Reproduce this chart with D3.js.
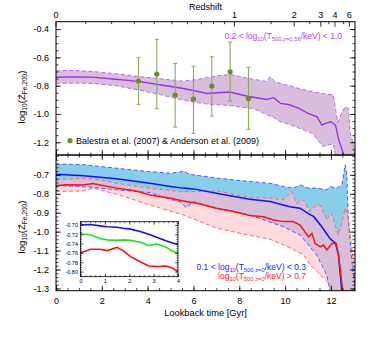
<!DOCTYPE html>
<html>
<head>
<meta charset="utf-8">
<script src="https://d3js.org/d3.v7.min.js"></script>
<style>
body { margin:0; background:#fff; }
text { font-family: "Liberation Sans", Arial, sans-serif; }
</style>
</head>
<body>
<script>
// ---- data (lookback time in Gyr, log10 Z) ----
var tTopMed = [0, 0.8, 1.6, 2.6, 3.6, 4.6, 5.5, 6.1, 6.6, 7.1, 7.6, 8.3, 9.2, 9.5, 9.8, 10.2, 10.6, 11.0, 11.4, 11.6, 11.8, 12.0, 12.2, 12.35, 12.5, 12.65];
var topMed  = [-0.741,-0.738,-0.740,-0.755,-0.770,-0.795,-0.818,-0.838,-0.855,-0.850,-0.845,-0.873,-0.898,-0.885,-0.925,-0.935,-0.960,-0.996,-1.020,-1.078,-1.065,-1.055,-1.080,-1.190,-1.260,-1.35];

var tTopBand = [0, 0.8, 1.6, 2.6, 3.6, 4.6, 5.5, 6.1, 6.6, 7.1, 7.6, 8.0, 8.6, 9.2, 9.35, 9.55, 9.8, 10.2, 10.6, 11.2, 11.4, 11.65, 12.1, 12.3, 12.45, 12.62, 12.76, 12.84, 12.97, 13.1];
var topUp  = [-0.695,-0.692,-0.700,-0.715,-0.735,-0.752,-0.768,-0.758,-0.742,-0.728,-0.722,-0.735,-0.755,-0.770,-0.737,-0.770,-0.784,-0.800,-0.820,-0.843,-0.848,-0.855,-0.866,-1.060,-1.000,-0.949,-0.960,-1.135,-1.206,-1.30];
var topLow = [-0.784,-0.782,-0.784,-0.800,-0.830,-0.865,-0.900,-0.918,-0.930,-0.935,-0.940,-0.950,-0.962,-1.005,-1.015,-1.030,-1.055,-1.075,-1.100,-1.137,-1.180,-1.230,-1.210,-1.40,-1.40,-1.40,-1.40,-1.40,-1.40,-1.40];

var obsT  = [3.6, 4.4, 5.2, 6.0, 6.8, 7.6, 8.4];
var obsZ  = [-0.767, -0.718, -0.866, -0.895, -0.803, -0.702, -0.890];
var obsHi = [-0.600, -0.473, -0.643, -0.662, -0.596, -0.492, -0.671];
var obsLo = [-0.932, -0.963, -1.093, -1.137, -1.015, -0.909, -1.109];

var tBlueMed = [0, 1.2, 2.65, 4.1, 5.0, 5.55, 6.0, 7.0, 8.45, 9.35, 10.2, 10.65, 11.0, 11.25, 11.6, 11.95, 12.2, 12.33, 12.5];
var blueMed  = [-0.697,-0.704,-0.721,-0.744,-0.762,-0.770,-0.774,-0.797,-0.829,-0.841,-0.868,-0.876,-0.903,-0.921,-0.974,-1.035,-1.062,-1.124,-1.35];

var tRedMed = [0, 0.4, 1.2, 1.6, 2.65, 3.5, 4.1, 5.0, 5.55, 6.15, 7.0, 7.75, 8.45, 9.05, 9.5, 9.95, 10.35, 10.65, 11.02, 11.17, 11.31, 11.53, 11.67, 11.82, 12.04, 12.23, 12.33, 12.55];
var redMed  = [-0.758,-0.752,-0.753,-0.746,-0.770,-0.785,-0.806,-0.823,-0.838,-0.850,-0.876,-0.894,-0.915,-0.921,-0.938,-0.947,-0.947,-0.965,-1.027,-1.009,-1.062,-1.080,-1.071,-1.097,-1.062,-1.062,-1.124,-1.35];

var tBlueBand = [0, 1.2, 2.65, 4.1, 5.0, 5.4, 5.56, 5.71, 6.0, 7.0, 8.45, 9.35, 9.93, 10.36, 10.66, 11.02, 11.38, 11.82, 11.97, 12.26, 12.48, 12.62, 12.69, 12.76, 12.84, 12.95, 13.1];
var blueUp  = [-0.643,-0.646,-0.665,-0.683,-0.691,-0.685,-0.679,-0.690,-0.700,-0.717,-0.735,-0.744,-0.762,-0.770,-0.753,-0.770,-0.770,-0.779,-0.762,-0.770,-0.753,-0.647,-0.700,-0.947,-1.053,-1.200,-1.35];
var blueLow = [-0.757,-0.762,-0.779,-0.794,-0.830,-0.841,-0.860,-0.873,-0.841,-0.876,-0.912,-0.950,-0.974,-1.000,-1.018,-1.070,-1.124,-1.229,-1.320,-1.40,-1.40,-1.40,-1.40,-1.40,-1.40,-1.40,-1.40];

var tRedBand = [0, 1.2, 1.63, 1.92, 2.65, 4.1, 5.56, 7.02, 8.47, 9.34, 9.93, 10.29, 10.5, 10.8, 11.09, 11.31, 11.53, 11.82, 12.0, 12.1, 12.31, 12.45, 12.62, 12.76, 12.84, 12.97, 13.1];
var redUp  = [-0.726,-0.718,-0.722,-0.726,-0.745,-0.770,-0.790,-0.785,-0.820,-0.823,-0.832,-0.788,-0.850,-0.832,-0.894,-0.864,-0.859,-0.938,-0.900,-0.930,-1.018,-0.965,-0.876,-0.929,-1.018,-1.150,-1.35];
var redLow = [-0.788,-0.785,-0.770,-0.780,-0.802,-0.859,-0.912,-0.982,-1.020,-1.040,-1.070,-1.090,-1.105,-1.120,-1.176,-1.200,-1.229,-1.260,-1.300,-1.350,-1.40,-1.40,-1.40,-1.40,-1.40,-1.40,-1.40];

// inset: first 4 Gyr of the medians
var tInset     = [0, 0.4, 0.8, 1.1, 1.5, 1.75, 2.05, 2.45, 2.8, 3.15, 3.5, 3.75, 4.0];
var insetBlue  = [-0.700,-0.699,-0.702,-0.704,-0.705,-0.707,-0.709,-0.714,-0.720,-0.727,-0.734,-0.738,-0.742];
var insetGreen = [-0.719,-0.721,-0.729,-0.732,-0.733,-0.732,-0.733,-0.737,-0.744,-0.741,-0.747,-0.756,-0.760];
var insetRed   = [-0.760,-0.752,-0.752,-0.755,-0.748,-0.755,-0.768,-0.779,-0.788,-0.789,-0.788,-0.792,-0.800];

var zMajor = [0, 1, 2, 3, 4, 6];
var zMinor = [0.1,0.2,0.3,0.4,0.5,0.6,0.7,0.8,0.9,1.5,2.5,3.5,5];

// ---- layout ----
var W = 374, H = 337;
var L = 56, R = 355, T1 = 21.7, M = 155, B = 290.7;

var svg = d3.select("body").append("svg").attr("width", W).attr("height", H);

var x = d3.scaleLinear().domain([0, 13.05]).range([L, R]);
var yTop = d3.scaleLinear().domain([-1.29, -0.348]).range([M, T1]);
var yBot = d3.scaleLinear().domain([-1.312, -0.595]).range([B, M]);

// lookback time for a flat LCDM (H0=70.4, Om=0.272)
function lookback(z) {
  var th = 977.8 / 70.4, om = 0.272, ol = 0.728;
  var k = 2 * th / (3 * Math.sqrt(ol)), s = Math.sqrt(ol / om);
  return k * Math.asinh(s) - k * Math.asinh(s * Math.pow(1 + z, -1.5));
}

function zip(t, v) { return t.map(function(d, i) { return [d, v[i]]; }); }
function zip3(t, a, b) { return t.map(function(d, i) { return [d, a[i], b[i]]; }); }

var defs = svg.append("defs");
defs.append("clipPath").attr("id", "clipTop").append("rect")
  .attr("x", L).attr("y", T1).attr("width", R - L).attr("height", M - T1);
defs.append("clipPath").attr("id", "clipBot").append("rect")
  .attr("x", L).attr("y", M).attr("width", R - L).attr("height", B - M);

// ================= top panel =================
var gTop = svg.append("g").attr("clip-path", "url(#clipTop)");
var lineT = d3.line().x(function(d) { return x(d[0]); }).y(function(d) { return yTop(d[1]); });
var areaT = d3.area().x(function(d) { return x(d[0]); })
  .y0(function(d) { return yTop(d[2]); }).y1(function(d) { return yTop(d[1]); });

var topBand = zip3(tTopBand, topUp, topLow);
gTop.append("path").datum(topBand).attr("d", areaT).attr("fill", "#d9bedb");
gTop.append("path").datum(zip(tTopBand, topUp)).attr("d", lineT)
  .attr("fill", "none").attr("stroke", "#b15cf2").attr("stroke-width", 0.9).attr("stroke-dasharray", "4,2.5");
gTop.append("path").datum(zip(tTopBand, topLow)).attr("d", lineT)
  .attr("fill", "none").attr("stroke", "#b15cf2").attr("stroke-width", 0.9).attr("stroke-dasharray", "4,2.5");
gTop.append("path").datum(zip(tTopMed, topMed)).attr("d", lineT)
  .attr("fill", "none").attr("stroke", "#9b2ff0").attr("stroke-width", 1.4);

// observations with error bars
var obs = obsT.map(function(d, i) { return {t: d, z: obsZ[i], hi: obsHi[i], lo: obsLo[i]}; });
var eb = gTop.append("g").selectAll("g").data(obs).enter().append("g");
eb.append("line").attr("x1", function(d) { return x(d.t); }).attr("x2", function(d) { return x(d.t); })
  .attr("y1", function(d) { return yTop(d.hi); }).attr("y2", function(d) { return yTop(d.lo); })
  .attr("stroke", "#8aa85a").attr("stroke-width", 1.1);
eb.selectAll(".cap").data(function(d) { return [[d.t, d.hi], [d.t, d.lo]]; }).enter().append("line")
  .attr("x1", function(d) { return x(d[0]) - 2; }).attr("x2", function(d) { return x(d[0]) + 2; })
  .attr("y1", function(d) { return yTop(d[1]); }).attr("y2", function(d) { return yTop(d[1]); })
  .attr("stroke", "#8aa85a").attr("stroke-width", 1);
eb.append("circle").attr("cx", function(d) { return x(d.t); }).attr("cy", function(d) { return yTop(d.z); })
  .attr("r", 2.6).attr("fill", "#6b8e23");

// ================= bottom panel =================
var gBot = svg.append("g").attr("clip-path", "url(#clipBot)");
var lineB = d3.line().x(function(d) { return x(d[0]); }).y(function(d) { return yBot(d[1]); });
var areaB = d3.area().x(function(d) { return x(d[0]); })
  .y0(function(d) { return yBot(d[2]); }).y1(function(d) { return yBot(d[1]); });

var blueBand = zip3(tBlueBand, blueUp, blueLow);
var redBand = zip3(tRedBand, redUp, redLow);
defs.append("clipPath").attr("id", "clipBlue").append("path").datum(blueBand).attr("d", areaB);

gBot.append("path").datum(blueBand).attr("d", areaB).attr("fill", "#87ceeb");
gBot.append("path").datum(redBand).attr("d", areaB).attr("fill", "#ffdadc");
gBot.append("g").attr("clip-path", "url(#clipBlue)")
  .append("path").datum(redBand).attr("d", areaB).attr("fill", "#d7bfda");

function dashed(g, data, col) {
  g.append("path").datum(data).attr("d", lineB).attr("fill", "none")
    .attr("stroke", col).attr("stroke-width", 0.9).attr("stroke-dasharray", "4,2.5");
}
dashed(gBot, zip(tBlueBand, blueUp), "#4a4aff");
dashed(gBot, zip(tBlueBand, blueLow), "#4a4aff");
dashed(gBot, zip(tRedBand, redUp), "#ff5a5a");
dashed(gBot, zip(tRedBand, redLow), "#ff5a5a");
gBot.append("path").datum(zip(tBlueMed, blueMed)).attr("d", lineB)
  .attr("fill", "none").attr("stroke", "#1010ff").attr("stroke-width", 1.5);
gBot.append("path").datum(zip(tRedMed, redMed)).attr("d", lineB)
  .attr("fill", "none").attr("stroke", "#ff1010").attr("stroke-width", 1.5);

// ================= axes =================
function fmt(p) { return function(d) { return d3.format(p)(d).replace("\u2212", "-"); }; }

function styleAxis(g, fs) {
  g.select(".domain").remove();
  g.selectAll("line").attr("stroke", "#000").attr("stroke-width", 0.8);
  g.selectAll("text").attr("font-size", fs).attr("fill", "#000")
    .style("font-family", "'Liberation Sans', Arial, sans-serif");
}

function axes(y, major, minor, f) {
  var vals = d3.range(major[0], major[1] + 1e-9, major[2]);
  var gl = svg.append("g").attr("transform", "translate(" + L + ",0)")
    .call(d3.axisLeft(y).tickValues(vals).tickSize(-5).tickPadding(7).tickFormat(fmt(f)));
  styleAxis(gl, 9);
  var gm = svg.append("g").attr("transform", "translate(" + L + ",0)")
    .call(d3.axisLeft(y).tickValues(minor).tickSize(-2.5).tickFormat(""));
  styleAxis(gm, 9);
  var gr = svg.append("g").attr("transform", "translate(" + R + ",0)")
    .call(d3.axisRight(y).tickValues(vals).tickSize(-5).tickFormat(""));
  styleAxis(gr, 9);
  var grm = svg.append("g").attr("transform", "translate(" + R + ",0)")
    .call(d3.axisRight(y).tickValues(minor).tickSize(-2.5).tickFormat(""));
  styleAxis(grm, 9);
}

var minTop = d3.range(-1.25, -0.35, 0.05).map(function(d) { return +d.toFixed(2); }).filter(function(d) { return d > -1.29; });
axes(yTop, [-1.2, -0.4, 0.2], minTop, ".1f");
var minBot = d3.range(-1.30, -0.599, 0.02).map(function(d) { return +d.toFixed(2); });
axes(yBot, [-1.3, -0.7, 0.1], minBot, ".1f");

// time ticks along the shared edge and the bottom
var tMaj = d3.range(0, 13, 2), tMin = d3.range(0, 13.01, 0.5);
[[B, -5, -2.5, true], [M, -5, -2.5, false], [M, 5, 2.5, false]].forEach(function(s) {
  var ga = svg.append("g").attr("transform", "translate(0," + s[0] + ")")
    .call(d3.axisBottom(x).tickValues(tMaj).tickSize(s[1]).tickPadding(7).tickFormat(s[3] ? fmt("d") : ""));
  styleAxis(ga, 9);
  var gb = svg.append("g").attr("transform", "translate(0," + s[0] + ")")
    .call(d3.axisBottom(x).tickValues(tMin).tickSize(s[2]).tickFormat(""));
  styleAxis(gb, 9);
});

// redshift axis on top
var xz = function(z) { return x(lookback(z)); };
var gz = svg.append("g").attr("transform", "translate(0," + T1 + ")");
gz.selectAll(".zmaj").data(zMajor).enter().append("line")
  .attr("x1", xz).attr("x2", xz).attr("y1", 0).attr("y2", 5).attr("stroke", "#000").attr("stroke-width", 0.8);
gz.selectAll(".zmin").data(zMinor).enter().append("line")
  .attr("x1", xz).attr("x2", xz).attr("y1", 0).attr("y2", 2.5).attr("stroke", "#000").attr("stroke-width", 0.8);
gz.selectAll("text").data(zMajor).enter().append("text")
  .attr("x", xz).attr("y", -4).attr("text-anchor", "middle").attr("font-size", 9).text(function(d) { return d; });

// frames
svg.append("rect").attr("x", L).attr("y", T1).attr("width", R - L).attr("height", M - T1)
  .attr("fill", "none").attr("stroke", "#000").attr("stroke-width", 1);
svg.append("rect").attr("x", L).attr("y", M).attr("width", R - L).attr("height", B - M)
  .attr("fill", "none").attr("stroke", "#000").attr("stroke-width", 1);

// axis titles
svg.append("text").attr("x", (L + R) / 2).attr("y", 9.5).attr("text-anchor", "middle")
  .attr("font-size", 9).text("Redshift");
svg.append("text").attr("x", (L + R) / 2).attr("y", 316).attr("text-anchor", "middle")
  .attr("font-size", 9.3).text("Lookback time [Gyr]");

function ylabel(cy) {
  var t = svg.append("text").attr("transform", "translate(25," + cy + ") rotate(-90)")
    .attr("text-anchor", "middle").attr("font-size", 9.6);
  t.append("tspan").text("log");
  t.append("tspan").attr("font-size", 6.6).attr("baseline-shift", "-25%").text("10");
  t.append("tspan").text("(Z\u0304");
  t.append("tspan").attr("font-size", 6.6).attr("baseline-shift", "-25%").text("Fe,200");
  t.append("tspan").text(")");
}
ylabel(97);
ylabel(227);

// labels
function tlabel(xp, yp, col, pre, sub, post) {
  var t = svg.append("text").attr("x", xp).attr("y", yp).attr("text-anchor", "end")
    .attr("font-size", 8.5).attr("fill", col);
  t.append("tspan").text(pre + "log");
  t.append("tspan").attr("font-size", 5.8).attr("baseline-shift", "-25%").text("10");
  t.append("tspan").text("(T");
  t.append("tspan").attr("font-size", 5.8).attr("baseline-shift", "-25%").text(sub);
  t.append("tspan").text(post);
}
tlabel(342, 39, "#b040f5", "0.2 < ", "500,z=0.56", "/keV) < 1.0");
tlabel(306, 270, "#1a1aff", "0.1 < ", "500,z=0", "/keV) < 0.3");
tlabel(306, 279, "#ff2020", "", "500,z=0", "/keV) > 0.7");

svg.append("circle").attr("cx", 70).attr("cy", 140.7).attr("r", 2.6).attr("fill", "#6b8e23");
svg.append("text").attr("x", 76).attr("y", 144).attr("font-size", 9)
  .text("Balestra et al. (2007) & Anderson et al. (2009)");

// ================= inset =================
var ix = d3.scaleLinear().domain([0, 4]).range([80.5, 178]);
var iy = d3.scaleLinear().domain([-0.811, -0.693]).range([276.7, 221.7]);
svg.append("rect").attr("x", 80.5).attr("y", 221.7).attr("width", 97.5).attr("height", 55)
  .attr("fill", "#fff");
var lineI = d3.line().x(function(d) { return ix(d[0]); }).y(function(d) { return iy(d[1]); });
[[insetBlue, "#1010ff"], [insetGreen, "#20e020"], [insetRed, "#ff1010"]].forEach(function(s) {
  svg.append("path").datum(zip(tInset, s[0])).attr("d", lineI)
    .attr("fill", "none").attr("stroke", s[1]).attr("stroke-width", 1.6);
});
function iaxis(gen, tr, vals, size, f) {
  var g = svg.append("g").attr("transform", tr)
    .call(gen.tickValues(vals).tickSize(size).tickPadding(2.5).tickFormat(f));
  styleAxis(g, 5.5);
  g.selectAll("line").attr("stroke-width", 0.6);
}
var iyMaj = [-0.80, -0.78, -0.76, -0.74, -0.72, -0.70];
var iyMin = d3.range(-0.81, -0.6935, 0.005).map(function(d) { return +d.toFixed(3); });
var ixMaj = [0, 1, 2, 3, 4], ixMin = d3.range(0, 4.01, 0.2).map(function(d) { return +d.toFixed(1); });
iaxis(d3.axisLeft(iy), "translate(80.5,0)", iyMaj, -3, fmt(".2f"));
iaxis(d3.axisLeft(iy), "translate(80.5,0)", iyMin, -1.5, "");
iaxis(d3.axisRight(iy), "translate(178,0)", iyMaj, -3, "");
iaxis(d3.axisRight(iy), "translate(178,0)", iyMin, -1.5, "");
iaxis(d3.axisBottom(ix), "translate(0,276.7)", ixMaj, -3, fmt("d"));
iaxis(d3.axisBottom(ix), "translate(0,276.7)", ixMin, -1.5, "");
iaxis(d3.axisTop(ix), "translate(0,221.7)", ixMaj, -3, "");
iaxis(d3.axisTop(ix), "translate(0,221.7)", ixMin, -1.5, "");
svg.append("rect").attr("x", 80.5).attr("y", 221.7).attr("width", 97.5).attr("height", 55)
  .attr("fill", "none").attr("stroke", "#000").attr("stroke-width", 0.8);
</script>
</body>
</html>
